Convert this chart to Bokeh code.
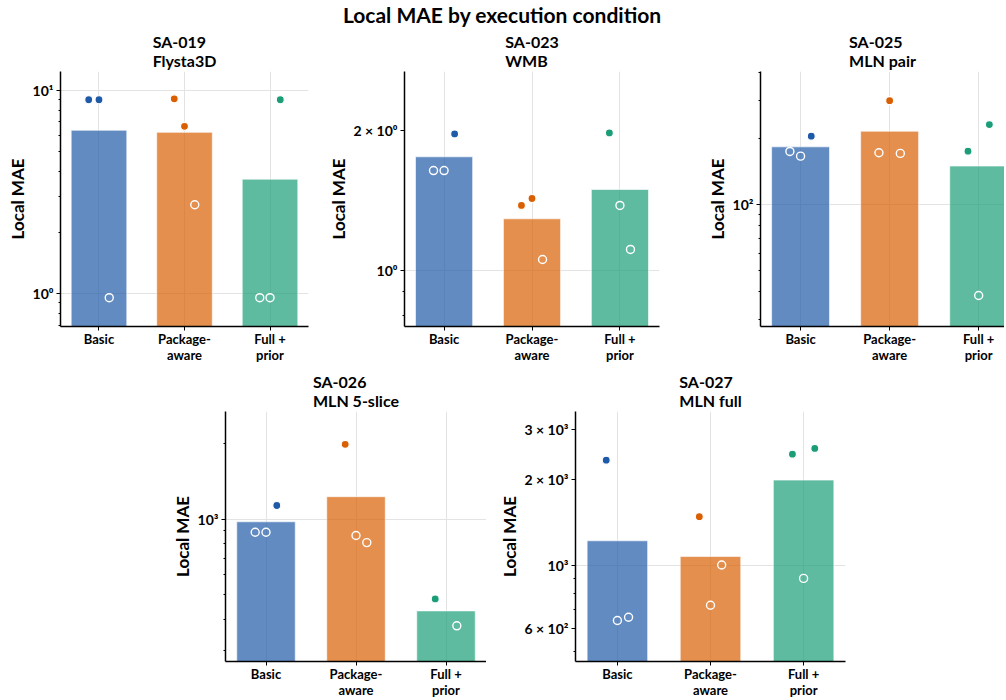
from bokeh.plotting import figure
from bokeh.models import FixedTicker, Range1d, Title, Div, Spacer, ColumnDataSource
from bokeh.layouts import column, row
from bokeh.embed import file_html
from bokeh.resources import INLINE

FONT = "Lato"

# ---------------- data ----------------
conditions = ["Basic", "Package-\naware", "Full +\nprior"]
colors = ["#1f5aa8", "#d95f02", "#1b9e77"]
rep_offsets = [-0.12, 0.0, 0.12]

suptitle = "Local MAE by execution condition"
panel_ids = ["SA-019", "SA-023", "SA-025", "SA-026", "SA-027"]
panel_names = ["Flysta3D", "WMB", "MLN pair", "MLN 5-slice", "MLN full"]

# per panel: bar values (mean over replicates) and the three replicates per condition
sa019_bars = [6.37, 6.22, 3.66]
sa019_rep1 = [9.0, 9.1, 0.955]
sa019_rep2 = [9.0, 6.66, 0.955]
sa019_rep3 = [0.955, 2.74, 9.0]

sa023_bars = [1.753, 1.291, 1.492]
sa023_rep1 = [1.638, 1.379, 1.972]
sa023_rep2 = [1.638, 1.427, 1.379]
sa023_rep3 = [1.962, 1.056, 1.11]

sa025_bars = [183.5, 216.3, 150.0]
sa025_rep1 = [174.9, 172.4, 175.4]
sa025_rep2 = [166.4, 298.2, 38.5]
sa025_rep3 = [205.3, 171.3, 232.0]

sa026_bars = [976, 1228, 432]
sa026_rep1 = [887, 1982, 482]
sa026_rep2 = [887, 861, None]
sa026_rep3 = [1133, 807, 377]

sa027_bars = [1222, 1076, 1995]
sa027_rep1 = [2343, 1485, 2459]
sa027_rep2 = [642, 726, 902]
sa027_rep3 = [659, 1005, 2576]

# y-axis ranges and tick specs
y_ranges = [(0.689, 12.4), (0.759, 2.67), (27.8, 405), (272, 2676), (461, 3472)]
major_ticks = [[1, 10], [1, 2], [100], [1000], [600, 1000, 2000, 3000]]
major_labels = [
    {1: "10⁰", 10: "10¹"},
    {1: "10⁰", 2: "2 × 10⁰"},
    {100: "10²"},
    {1000: "10³"},
    {600: "6 × 10²", 1000: "10³", 2000: "2 × 10³", 3000: "3 × 10³"},
]
minor_ticks = [
    [0.7, 0.8, 0.9, 2, 3, 4, 5, 6, 7, 8, 9],
    [0.8, 0.9],
    [30, 40, 50, 60, 70, 80, 90, 200, 300, 400],
    [300, 400, 500, 600, 700, 800, 900, 2000],
    [500, 700, 800, 900],
]
grid_ticks = [[1, 10], [1], [100], [1000], [1000]]

panels_bars = [sa019_bars, sa023_bars, sa025_bars, sa026_bars, sa027_bars]
panels_reps = [
    [sa019_rep1, sa019_rep2, sa019_rep3],
    [sa023_rep1, sa023_rep2, sa023_rep3],
    [sa025_rep1, sa025_rep2, sa025_rep3],
    [sa026_rep1, sa026_rep2, sa026_rep3],
    [sa027_rep1, sa027_rep2, sa027_rep3],
]

# layout specs: (width, height, left, right, top, bottom, x_end)
layout_specs = [
    (318, 340, 60, 10, 42, 42, 2.45),
    (362, 340, 86, 21, 42, 42, 2.45),
    (324, 340, 80, 0, 42, 42, 2.29),
    (328, 332, 67, 0, 39, 37, 2.45),
    (369, 332, 89, 10, 39, 37, 2.45),
]


def make_panel(k):
    w, h, bl, br, bt, bb, xend = layout_specs[k]
    y0, y1 = y_ranges[k]
    p = figure(width=w, height=h, y_axis_type="log",
               x_range=Range1d(-0.45, xend), y_range=Range1d(y0, y1),
               output_backend="svg", toolbar_location=None,
               min_border_left=bl, min_border_right=br,
               min_border_top=bt, min_border_bottom=bb)
    p.outline_line_color = None
    p.background_fill_color = "white"
    p.border_fill_color = "white"

    bars = panels_bars[k]
    xs = list(range(len(conditions)))
    src = ColumnDataSource(dict(x=xs, top=bars, bottom=[y0 / 100.0] * len(xs), color=colors))
    p.vbar(x="x", top="top", bottom="bottom", width=0.65, source=src,
           fill_color="color", fill_alpha=0.7, line_color="white", line_alpha=0.6, line_width=1)

    out = dict(x=[], y=[], c=[])
    ins = dict(x=[], y=[], c=[])
    for j, rep in enumerate(panels_reps[k]):
        for i, v in enumerate(rep):
            if v is None:
                continue
            d = out if v > bars[i] else ins
            d["x"].append(i + rep_offsets[j])
            d["y"].append(v)
            d["c"].append(colors[i])
    p.scatter(x="x", y="y", source=ColumnDataSource(out), size=8,
              fill_color="c", line_color="white", line_width=1.2)
    p.scatter(x="x", y="y", source=ColumnDataSource(ins), size=8,
              fill_alpha=0, line_color="white", line_width=1.4)

    # two-line title
    t = Title(text=panel_ids[k] + "\n" + panel_names[k], align="center", text_font=FONT,
              text_font_size="16px", text_font_style="bold", standoff=3,
              text_color="black", text_line_height=1.0)
    p.add_layout(t, "above")

    # x axis
    xa = p.xaxis[0]
    xa.ticker = FixedTicker(ticks=xs)
    xa.major_label_overrides = {i: lab for i, lab in enumerate(conditions)}
    xa.major_label_text_font = FONT
    xa.major_label_text_font_size = "13px"
    xa.major_label_text_font_style = "bold"
    xa.major_label_text_color = "black"
    xa.major_label_text_line_height = 1.0
    xa.major_label_standoff = 0
    xa.major_tick_out = 4
    xa.major_tick_in = 0
    xa.minor_tick_out = 0
    xa.axis_line_width = 1.5
    xa.axis_line_color = "black"
    xa.major_tick_line_color = "black"

    # y axis
    ya = p.yaxis[0]
    ya.ticker = FixedTicker(ticks=major_ticks[k], minor_ticks=minor_ticks[k])
    ya.major_label_overrides = major_labels[k]
    ya.major_label_text_font = FONT
    ya.major_label_text_font_size = "14px"
    ya.major_label_text_font_style = "bold"
    ya.major_label_text_color = "black"
    ya.major_label_standoff = 3
    ya.major_tick_out = 4
    ya.major_tick_in = 0
    ya.minor_tick_out = 2
    ya.minor_tick_in = 0
    ya.axis_line_width = 1.5
    ya.axis_line_color = "black"
    ya.axis_label = "Local MAE"
    ya.axis_label_text_font = FONT
    ya.axis_label_text_font_size = "17px"
    ya.axis_label_text_font_style = "bold"
    ya.axis_label_text_color = "black"
    ya.axis_label_standoff = 2

    p.xgrid.ticker = FixedTicker(ticks=xs)
    p.ygrid.ticker = FixedTicker(ticks=grid_ticks[k])
    p.xgrid.grid_line_color = "#e3e3e3"
    p.ygrid.grid_line_color = "#e3e3e3"
    p.xgrid.grid_line_width = 1
    p.ygrid.grid_line_width = 1
    return p


figs = [make_panel(k) for k in range(5)]

title_div = Div(
    text=f'<div style="font-family:{FONT};font-size:21px;font-weight:bold;'
         f'text-align:center;line-height:30px;color:black;padding-left:22px;width:982px;">{suptitle}</div>',
    width=1004, height=28, margin=0)

row1 = row(figs[0], figs[1], figs[2], spacing=0)
row2 = row(Spacer(width=158, height=332), figs[3], figs[4], spacing=0)
layout = column(title_div, row1, row2, spacing=0)

open("out.html", "w").write(file_html(layout, INLINE, title="Local MAE by execution condition"))
